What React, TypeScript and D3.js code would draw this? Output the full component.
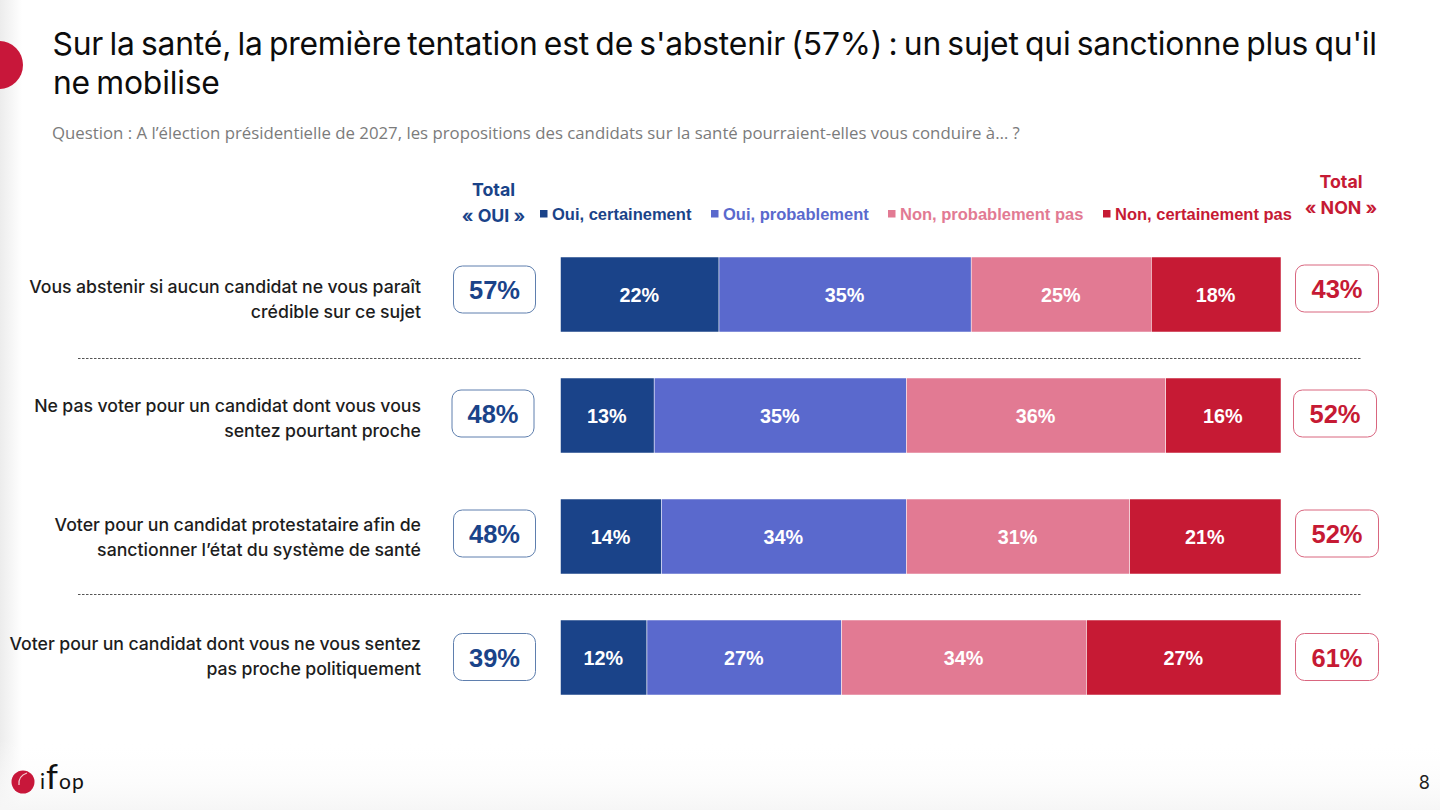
import React from "react";
import * as d3 from "d3";

const seriesNames = ["Oui, certainement", "Oui, probablement", "Non, probablement pas", "Non, certainement pas"];
const seriesColors = ["#1a4389", "#5a69cd", "#e27a93", "#c61a34"];
const legendX = [540, 711, 888, 1103];
const rowLabels = [
  ["Vous abstenir si aucun candidat ne vous paraît", "crédible sur ce sujet"],
  ["Ne pas voter pour un candidat dont vous vous", "sentez pourtant proche"],
  ["Voter pour un candidat protestataire afin de", "sanctionner l’état du système de santé"],
  ["Voter pour un candidat dont vous ne vous sentez", "pas proche politiquement"],
];
const ouiCertain = [22, 13, 14, 12];
const ouiProbable = [35, 35, 34, 27];
const nonProbable = [25, 36, 31, 34];
const nonCertain = [18, 16, 21, 27];
const totalOui = [57, 48, 48, 39];
const totalNon = [43, 52, 52, 61];
const ouiBoxX = [453.5, 452, 453.5, 453.5];
const ouiBoxY = [266, 390, 510, 633.5];
const nonBoxX = [1295.5, 1293.5, 1295.5, 1295.5];
const nonBoxY = [265, 390, 510, 633.5];
const labelY = [292.5, 412, 531, 650];
const dashedY = [358.5, 594.5];

const W = 1440;
const H = 810;
const SANS = "Inter, 'Liberation Sans', sans-serif";
const ARIAL = "'Liberation Sans', Arial, sans-serif";

export default function App() {
  const x = d3.scaleLinear().domain([0, 100]).range([560.5, 1281]);
  const y = d3.scaleBand<number>().domain([0, 1, 2, 3]).range([257, 695]).paddingInner(46 / 121).paddingOuter(0);
  const rows = rowLabels.map((_, i) => ({ i, vals: [ouiCertain[i], ouiProbable[i], nonProbable[i], nonCertain[i]] }));
  const stack = d3.stack<any, any>().keys([0, 1, 2, 3]).value((d: any, k: any) => d.vals[k]);
  const layers = stack(rows as any);

  return (
    <svg width={W} height={H} viewBox={`0 0 ${W} ${H}`} style={{ position: "absolute", left: 0, top: 0, background: "#fff" }}>
      <defs>
        <linearGradient id="lg" x1="0" x2="1" y1="0" y2="0">
          <stop offset="0" stopColor="#ececec" />
          <stop offset="1" stopColor="#ffffff" />
        </linearGradient>
        <linearGradient id="bg" x1="0" x2="0" y1="0" y2="1">
          <stop offset="0" stopColor="#ffffff" stopOpacity="0" />
          <stop offset="1" stopColor="#f6f6f6" />
        </linearGradient>
      </defs>
      <rect x={0} y={0} width={22} height={H} fill="url(#lg)" />
      <rect x={0} y={740} width={W} height={70} fill="url(#bg)" />
      <circle cx={-1} cy={65} r={24} fill="#c8173a" />

      <g fontFamily={SANS} fontSize={31.8} fill="#0c0c0c" fontWeight={400} letterSpacing={-0.17} wordSpacing={-2.5}>
        <text x={52.5} y={55}>Sur la santé, la première tentation est de s'abstenir (57%) : un sujet qui sanctionne plus qu'il</text>
        <text x={53} y={94}>ne mobilise</text>
      </g>
      <text x={52} y={138.5} fontFamily="'Open Sans', sans-serif" fontSize={16.8} fill="#7b7b7b">
        Question : A l’élection présidentielle de 2027, les propositions des candidats sur la santé pourraient-elles vous conduire à… ?
      </text>

      <g fontFamily={SANS} fontWeight={700} fontSize={17.8} textAnchor="middle">
        <text x={493.5} y={196} fill={seriesColors[0]}>Total</text>
        <text x={493.5} y={221.5} fill={seriesColors[0]}>« OUI »</text>
        <text x={1341} y={188} fill={seriesColors[3]}>Total</text>
        <text x={1341} y={213.5} fill={seriesColors[3]}>« NON »</text>
      </g>

      <g fontFamily={ARIAL} fontWeight={700} fontSize={16.5}>
        {seriesNames.map((n, i) => (
          <g key={n}>
            <rect x={legendX[i]} y={210} width={7.5} height={7.5} fill={seriesColors[i]} />
            <text x={legendX[i] + 12} y={219.5} fill={seriesColors[i]}>{n}</text>
          </g>
        ))}
      </g>

      {dashedY.map((d) => (
        <line key={d} x1={78} x2={1361} y1={d} y2={d} stroke="#555" strokeWidth={1} strokeDasharray="2.5 1.5" />
      ))}

      {rowLabels.map((ls, i) => (
        <g key={i} fontFamily={SANS} fontSize={17.7} fontWeight={500} fill="#1d1d1d" textAnchor="end" wordSpacing={-0.3}>
          <text x={421} y={labelY[i]}>{ls[0]}</text>
          <text x={421} y={labelY[i] + 25}>{ls[1]}</text>
        </g>
      ))}

      {layers.map((layer: any, s: number) =>
        layer.map((d: any, i: number) => (
          <g key={`${s}-${i}`}>
            <rect
              x={x(d[0])}
              y={y(i)!}
              width={x(d[1]) - x(d[0])}
              height={y.bandwidth()}
              fill={seriesColors[s]}
              stroke="#fff"
              strokeWidth={0.5}
            />
            <text
              x={(x(d[0]) + x(d[1])) / 2 - 0.5}
              y={y(i)! + 44.5}
              textAnchor="middle"
              fontFamily={ARIAL}
              fontWeight={700}
              fontSize={19.8}
              fill="#fff"
            >
              {d[1] - d[0]}%
            </text>
          </g>
        ))
      )}

      {totalOui.map((v, i) => (
        <g key={i}>
          <rect x={ouiBoxX[i]} y={ouiBoxY[i]} width={82} height={47} rx={9} fill="#fff" stroke="#5f7fae" strokeWidth={1} />
          <text x={ouiBoxX[i] + 41} y={ouiBoxY[i] + 33} textAnchor="middle" fontFamily={ARIAL} fontWeight={700} fontSize={25.5} fill={seriesColors[0]}>{v}%</text>
        </g>
      ))}
      {totalNon.map((v, i) => (
        <g key={i}>
          <rect x={nonBoxX[i]} y={nonBoxY[i]} width={83} height={47} rx={9} fill="#fff" stroke="#d9667f" strokeWidth={1} />
          <text x={nonBoxX[i] + 41.5} y={nonBoxY[i] + 33} textAnchor="middle" fontFamily={ARIAL} fontWeight={700} fontSize={25.5} fill={seriesColors[3]}>{v}%</text>
        </g>
      ))}

      <g>
        <circle cx={23} cy={782} r={11.5} fill="#c8173a" />
        <path d="M19 785 Q18 776 27 773" fill="none" stroke="#f3c9cf" strokeWidth={1.3} />
        <text x={40} y={789} fontFamily="Lato, sans-serif" fontWeight={400} fontSize={21} fill="#111" letterSpacing={1}>
          i<tspan fontSize={34}>f</tspan>op
        </text>
      </g>
      <text x={1430} y={789} textAnchor="end" fontFamily={SANS} fontSize={18} fill="#222">8</text>
    </svg>
  );
}
